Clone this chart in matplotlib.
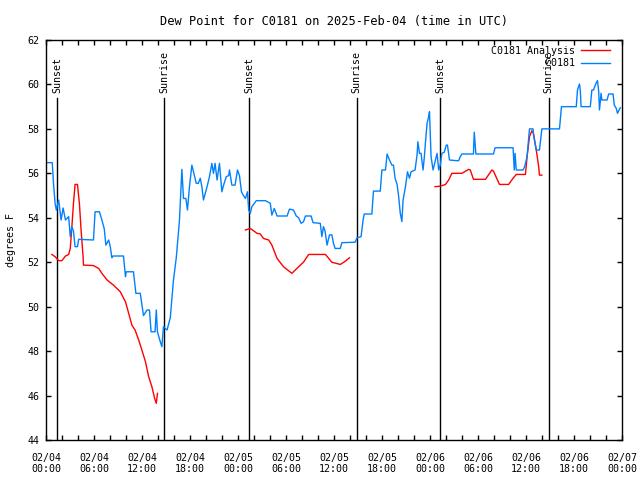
import pandas as pd
import matplotlib
matplotlib.use('Agg')
import matplotlib.pyplot as plt
import matplotlib.dates as mdates

plt.rcParams['font.family'] = ['DejaVu Sans Mono']
plt.rcParams['font.size'] = 7.2

start = pd.Timestamp('2025-02-04 00:00')

# observed dew point, hours after 02/04 00:00 UTC
obs_hours = [0.0, 0.75, 0.9, 1.1, 1.25, 1.55, 1.85, 2.1, 2.4, 2.8, 3.0, 3.2, 3.4, 3.6, 3.9, 4.05,
             5.9, 6.1, 6.65, 6.95, 7.25, 7.45, 7.8, 8.0, 8.2, 8.35, 9.65, 9.9, 10.0, 10.9, 11.2,
             11.75, 12.15, 12.6, 12.9, 13.1, 13.6, 13.75, 13.9, 14.25, 14.45, 14.65, 15.1, 15.5,
             15.9, 16.25, 16.65, 16.85, 16.95, 17.15, 17.45, 17.65, 17.9, 18.2, 18.4, 18.75, 19.0,
             19.25, 19.45, 19.65, 20.1, 20.4, 20.7, 20.9, 21.1, 21.35, 21.65, 21.95, 22.15, 22.5,
             22.8, 22.9, 23.2, 23.6, 23.9, 24.15, 24.4, 24.65, 24.9, 25.15, 25.3, 25.5, 25.7,
             26.25, 27.4, 28.0, 28.2, 28.5, 28.85, 30.1, 30.4, 30.9, 31.25, 31.55, 31.85, 32.15,
             32.4, 33.1, 33.35, 34.25, 34.45, 34.65, 34.85, 35.1, 35.4, 35.7, 35.9, 36.1, 36.75,
             36.95, 38.6, 38.85, 39.35, 39.6, 39.75, 40.7, 40.9, 41.75, 41.95, 42.4, 42.6, 42.9,
             43.2, 43.4, 43.6, 43.85, 44.05, 44.25, 44.45, 44.6, 44.9, 45.15, 45.4, 45.6, 46.1,
             46.35, 46.45, 46.65, 46.85, 47.1, 47.25, 47.4, 47.6, 47.8, 47.9, 48.0, 48.1, 48.35,
             48.6, 48.85, 49.05, 49.25, 49.45, 49.75, 50.0, 50.15, 50.4, 51.25, 51.55, 51.75,
             51.95, 53.4, 53.5, 53.7, 55.9, 56.1, 58.35, 58.5, 58.6, 58.75, 59.6, 59.8, 60.1,
             60.4, 60.85, 60.9, 61.25, 61.65, 61.95, 64.15, 64.4, 66.25, 66.4, 66.65, 66.75,
             66.85, 68.0, 68.2, 68.4, 68.75, 68.9, 69.05, 69.15, 69.35, 69.45, 70.1, 70.3, 70.85,
             71.0, 71.25, 71.4, 71.6, 71.75]
obs_dewpt = [56.48, 56.48, 55.56, 54.66, 54.35, 54.8, 53.9, 54.44, 53.9, 54.05, 53.15, 53.6, 53.4,
             52.7, 52.7, 53.03, 53.0, 54.27, 54.27, 53.9, 53.5, 52.77, 53.0, 52.7, 52.2, 52.28,
             52.28, 51.35, 51.57, 51.57, 50.6, 50.6, 49.6, 49.85, 49.85, 48.87, 48.87, 49.85,
             48.86, 48.42, 48.2, 49.1, 48.95, 49.5, 51.2, 52.2, 53.9, 55.4, 56.18, 54.87, 54.87,
             54.35, 55.4, 56.37, 56.07, 55.55, 55.55, 55.78, 55.4, 54.8, 55.4, 55.85, 56.45, 56.0,
             56.45, 55.7, 56.45, 55.17, 55.45, 55.85, 55.9, 56.15, 55.47, 55.47, 56.15, 55.9,
             55.17, 55.0, 54.87, 55.17, 54.35, 54.2, 54.5, 54.77, 54.77, 54.65, 54.12, 54.42,
             54.08, 54.08, 54.39, 54.35, 54.08, 54.0, 53.75, 53.82, 54.08, 54.08, 53.78, 53.75,
             53.15, 53.6, 53.4, 52.77, 53.23, 53.23, 52.85, 52.62, 52.62, 52.88, 52.9, 53.1,
             53.15, 53.9, 54.17, 54.17, 55.2, 55.2, 56.15, 56.15, 56.87, 56.6, 56.37, 56.37,
             55.78, 55.5, 54.95, 54.2, 53.83, 54.8, 55.4, 56.07, 55.78, 56.07, 56.15, 56.83,
             57.42, 56.9, 56.9, 56.15, 56.7, 57.4, 58.25, 58.55, 58.77, 57.8, 56.75, 56.15, 56.52,
             56.9, 56.15, 56.37, 56.9, 56.95, 57.27, 57.27, 56.6, 56.57, 56.57, 56.75, 56.87,
             56.87, 57.85, 56.87, 56.87, 57.15, 57.15, 56.15, 56.9, 56.15, 56.15, 56.3, 56.75,
             58.0, 58.0, 57.72, 57.05, 57.05, 58.0, 58.0, 59.0, 59.0, 59.75, 60.02, 59.75, 59.0,
             59.0, 59.75, 59.75, 60.08, 60.17, 59.7, 58.85, 59.6, 59.3, 59.3, 59.57, 59.57, 59.07,
             58.92, 58.7, 58.85, 58.95]

# analysis, three overnight runs
ana1_hours = [0.7, 1.1, 1.55, 1.95, 2.4, 2.8, 3.0, 3.2, 3.4, 3.6, 3.9, 4.15, 4.35, 4.6, 4.65, 5.9,
              6.55, 6.95, 7.6, 8.4, 9.25, 9.9, 10.3, 10.7, 11.1, 11.55, 11.95, 12.4, 12.8, 13.2,
              13.55, 13.75, 13.9]
ana1_dewpt = [52.35, 52.25, 52.07, 52.07, 52.28, 52.35, 52.62, 53.6, 54.65, 55.5, 55.5, 54.6,
              53.45, 52.25, 51.87, 51.85, 51.72, 51.5, 51.2, 50.97, 50.67, 50.22, 49.7, 49.17,
              48.95, 48.5, 48.05, 47.52, 46.85, 46.4, 45.87, 45.65, 46.1]
ana2_hours = [24.9, 25.5, 26.35, 26.75, 27.15, 27.8, 28.2, 28.85, 29.65, 30.7, 31.55, 32.15, 32.8,
              34.9, 35.7, 36.75, 37.4, 37.9]
ana2_dewpt = [53.45, 53.52, 53.3, 53.27, 53.07, 53.0, 52.77, 52.17, 51.8, 51.5, 51.8, 52.0, 52.35,
              52.35, 52.0, 51.9, 52.05, 52.2]
ana3_hours = [48.6, 49.25, 49.9, 50.3, 50.7, 51.95, 52.8, 53.0, 53.4, 54.9, 55.7, 55.9, 56.65,
              57.8, 58.35, 58.75, 59.9, 60.1, 60.4, 60.7, 60.9, 61.25, 61.55, 61.65, 61.95]
ana3_dewpt = [55.4, 55.42, 55.5, 55.7, 56.0, 56.0, 56.18, 56.15, 55.73, 55.73, 56.15, 56.1, 55.5,
              55.5, 55.78, 55.95, 55.95, 56.75, 57.65, 57.92, 57.8, 57.05, 56.3, 55.92, 55.92]

sun_hours = [1.4, 14.75, 25.4, 38.8, 49.25, 62.8]
sun_labels = ['Sunset', 'Sunrise', 'Sunset', 'Sunrise', 'Sunset', 'Sunrise']


def to_time(hours):
    return start + pd.to_timedelta(hours, unit='h')


fig = plt.figure(figsize=(6.4, 4.8), dpi=100)
ax = fig.add_axes([0.0723, 0.0833, 0.9, 0.8334])

red = '#ff0000'
blue = '#0080ff'

for h, lab in zip(sun_hours, sun_labels):
    t = to_time(h)
    ax.plot([t, t], [44, 59.4], color='black', lw=1.0)
    ax.text(t, 59.6, lab, rotation=90, ha='center', va='bottom')

ax.plot(to_time(ana1_hours), ana1_dewpt, color=red, lw=1.0, label='C0181 Analysis')
ax.plot(to_time(ana2_hours), ana2_dewpt, color=red, lw=1.0)
ax.plot(to_time(ana3_hours), ana3_dewpt, color=red, lw=1.0)
ax.plot(to_time(obs_hours), obs_dewpt, color=blue, lw=1.0, label='C0181'.rjust(14))

ax.set_xlim(start, start + pd.Timedelta(hours=72))
ax.set_ylim(44, 62)
ax.set_yticks(range(44, 63, 2))

ax.xaxis.set_major_locator(mdates.HourLocator(byhour=range(0, 24, 6)))
ax.xaxis.set_major_formatter(mdates.DateFormatter('%m/%d\n%H:%M'))
ax.xaxis.set_minor_locator(mdates.HourLocator(byhour=range(0, 24, 2)))

ax.tick_params(which='both', direction='in', top=True, right=True, length=3.5, width=1.0)
ax.tick_params(axis='x', which='major', pad=9)
ax.tick_params(axis='y', pad=5)
for s in ax.spines.values():
    s.set_linewidth(1.0)

ax.set_ylabel('degrees F', labelpad=8)
ax.set_title('Dew Point for C0181 on 2025-Feb-04 (time in UTC)', pad=11)

leg = ax.legend(loc='upper right', bbox_to_anchor=(0.985, 0.995), frameon=False,
                markerfirst=False, handlelength=2.9, handletextpad=0.6,
                borderaxespad=0.0, labelspacing=0.25)

fig.savefig('out.png', dpi=100)
